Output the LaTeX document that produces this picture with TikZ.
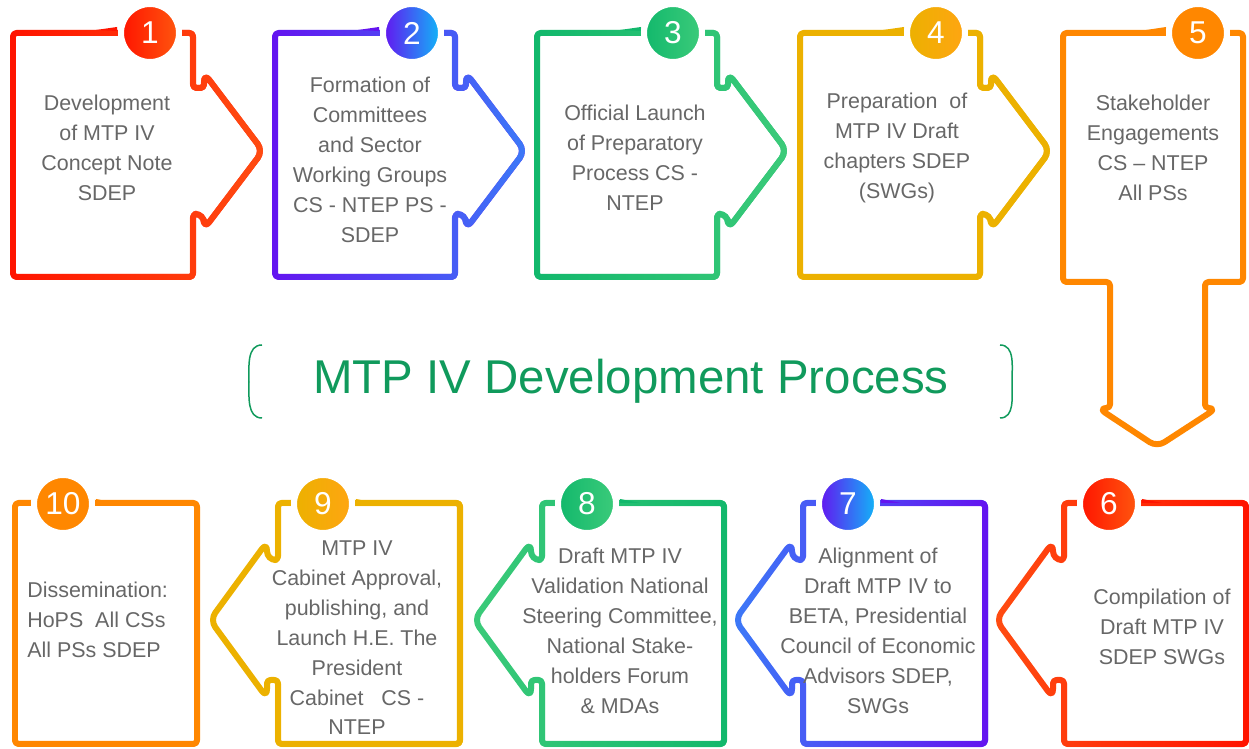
\documentclass[tikz,border=0pt]{standalone}
\usepackage{fontspec}
\setmainfont{Liberation Sans}
\usepackage{tikz}
\usetikzlibrary{positioning,calc,fadings}
\definecolor{redL}{HTML}{FF1400}
\definecolor{redR}{HTML}{FF4D12}
\definecolor{violet}{HTML}{6414F0}
\definecolor{blueR}{HTML}{3C7AF8}
\definecolor{greenL}{HTML}{12B86C}
\definecolor{greenR}{HTML}{3CCB7A}
\definecolor{amber}{HTML}{ECB100}
\definecolor{amberR}{HTML}{FFA512}
\definecolor{mtpOrange}{HTML}{FF8700}
\definecolor{cyanR}{HTML}{10B8F8}
\definecolor{titleGreen}{HTML}{109A5C}
\definecolor{stepGrey}{HTML}{676767}
% outlines in pixel units
\newcommand{\rightout}{(0,33) -- (180,33) -- (180,88) -- (191,88) [rounded corners=5pt] -- (191,73) -- (250,151) -- (191,229) -- (191,214) [rounded corners=2pt] -- (180,214) -- (180,277) -- (0,277) -- cycle}
\newcommand{\leftout}{(0,503) -- (182,503) -- (182,744) -- (0,744) -- (0,680) -- (-11,680) [rounded corners=5pt] -- (-11,698) -- (-68,620) -- (-11,542) -- (-11,560) [rounded corners=2pt] -- (0,560) -- cycle}

\begin{document}
\begin{tikzpicture}[x=0.02cm,y=-0.02cm,
  outline/.style={line width=0.12cm,line join=round,rounded corners=2pt},
  numdot/.style={circle,minimum size=1.16cm,inner sep=0pt,draw=white,line width=0.12cm,text=white,font=\fontsize{18}{18}\selectfont},
  steptext/.style={text=stepGrey,align=center,inner sep=0pt,font=\fontsize{12.2}{17}\selectfont}]
\useasboundingbox (0,0) rectangle (1249,749);

% top row, arrows to the right
\foreach \x/\ca/\cb in {13/redL/redR,275/violet/blueR,537/greenL/greenR,800/amber/amber}{
  \draw[outline,\ca,shift={(\x,0)}] \rightout;
  \draw[outline,\cb,path fading=west,shift={(\x,0)}] \rightout;
  \fill[\ca,shift={(\x,0)}] (83,30) -- (104,27) -- (104,31) -- cycle;
}
% step 5 turns down
\draw[outline,mtpOrange] (1063,33) -- (1243,33) -- (1243,282) -- (1205,282) -- (1205,408) [rounded corners=5pt] -- (1217,408) -- (1157,447) -- (1098,408) [rounded corners=2pt] -- (1110,408) -- (1110,282) -- (1063,282) -- cycle;
\fill[mtpOrange] (1146,30) -- (1166,27) -- (1166,31) -- cycle;

% bottom row, arrows to the left
\foreach \x/\ca/\cb in {278/amber/amber,542/greenR/greenL,803/blueR/violet,1064/redR/redL}{
  \draw[outline,\ca,shift={(\x,0)}] \leftout;
  \draw[outline,\cb,path fading=west,shift={(\x,0)}] \leftout;
  \fill[\cb,shift={(\x,0)}] (78,499) -- (98,503) -- (78,503) -- cycle;
}
\draw[outline,mtpOrange] (15,503) rectangle (197,744);
\fill[mtpOrange] (96,499) -- (116,503) -- (96,503) -- cycle;

% numbers
\node[numdot,left color=redL,right color=redR!80!orange] (n1) at (150,33) {1};
\node[numdot,left color=violet,right color=cyanR] (n2) at (412,33) {2};
\node[numdot,left color=greenL,right color=greenR] (n3) at (673,33) {3};
\node[numdot,left color=amber,right color=amberR] (n4) at (936,33) {4};
\node[numdot,fill=mtpOrange] (n5) at (1198,33) {5};
\node[numdot,left color=redL,right color=redR!80!orange] (n6) at (1109,504) {6};
\node[numdot,left color=violet,right color=cyanR] (n7) at (848,504) {7};
\node[numdot,left color=greenL,right color=greenR] (n8) at (587,504) {8};
\node[numdot,left color=amber,right color=amberR] (n9) at (323,504) {9};
\node[numdot,fill=mtpOrange] (n10) at (63,504) {10};

% step texts
\node[steptext] (s1) at (107,148) {Development\\of MTP IV\\Concept Note\\SDEP};
\node[steptext] (s2) at (370,160) {Formation of\\Committees\\and Sector\\Working Groups\\CS - NTEP PS -\\SDEP};
\node[steptext] (s3) at (635,158) {Official Launch\\of Preparatory\\Process CS -\\NTEP};
\node[steptext] (s4) at (897,148) {Preparation~ of\\MTP IV Draft\\chapters SDEP\\(SWGs)};
\node[steptext] (s5) at (1153,148) {Stakeholder\\Engagements\\CS – NTEP\\All PSs};
\node[steptext] (s6) at (1162,627) {Compilation of\\Draft MTP IV\\SDEP SWGs};
\node[steptext] (s7) at (878,631) {Alignment of\\Draft MTP IV to\\BETA, Presidential\\Council of Economic\\Advisors SDEP,\\SWGs};
\node[steptext] (s8) at (620,631) {Draft MTP IV\\Validation National\\Steering Committee,\\National Stake-\\holders Forum\\\& MDAs};
\node[steptext] (s9) at (357,638) {MTP IV\\Cabinet Approval,\\publishing, and\\Launch H.E. The\\President\\Cabinet~~~CS -\\NTEP};
\node[steptext,align=left,anchor=west] (s10) at (27,620) {Dissemination:\\HoPS~ All CSs\\All PSs SDEP};

% title
\node[text=titleGreen,font=\fontsize{27}{30}\selectfont] (title) at (631,381) {MTP IV Development Process};
\draw[titleGreen,line width=0.03cm] (262,345) to[out=180,in=90] (249,382) to[out=-90,in=180] (262,418);
\draw[titleGreen,line width=0.03cm] (1000,345) to[out=0,in=90] (1012,382) to[out=-90,in=0] (1000,418);
\end{tikzpicture}
\end{document}
